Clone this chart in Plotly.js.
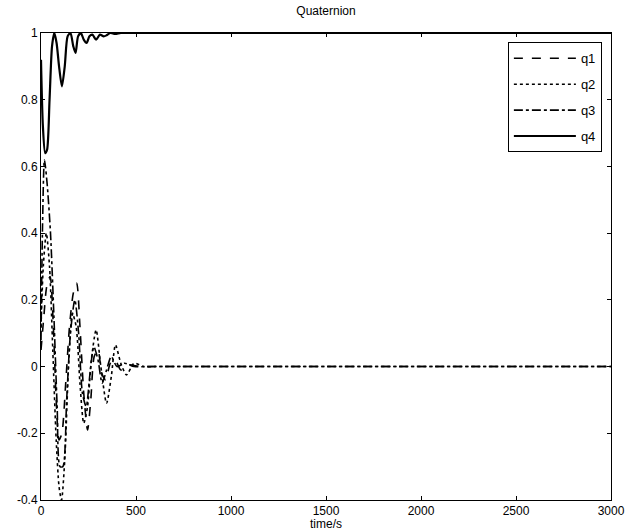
<!DOCTYPE html>
<html>
<head>
<meta charset="utf-8">
<script src="https://cdn.plot.ly/plotly-3.0.1.min.js"></script>
<style>html,body{margin:0;padding:0;background:#fff;}#chart{width:631px;height:531px;}</style>
</head>
<body>
<div id="chart"></div>
<script>
// q1 (dashed)
var t1 = [0,15,30,48,65,80,95,110,130,150,170,188,205,225,245,262,280,300,320,340,365,390,420,460,520,600,700,3000];
var q1 = [0.05,0.15,0.24,0.27,0.12,-0.1,-0.22,-0.2,-0.05,0.12,0.22,0.25,0.12,-0.08,-0.19,-0.1,0.03,0.05,-0.02,-0.04,0.01,0.02,-0.01,0.005,0,0,0,0];
// q2 (dotted)
var t2 = [0,12,28,45,62,80,95,108,125,145,165,185,205,225,245,265,290,315,345,370,392,420,450,490,540,600,700,3000];
var q2 = [0.12,0.3,0.4,0.3,0.05,-0.22,-0.36,-0.4,-0.28,0.0,0.16,0.12,-0.05,-0.17,-0.12,0.02,0.11,0.0,-0.11,-0.03,0.065,0.01,-0.025,0.01,0,0,0,0];
// q3 (dash-dot)
var t3 = [0,8,18,32,50,68,85,100,115,135,155,178,198,218,238,258,278,300,322,345,370,400,440,490,560,650,3000];
var q3 = [0.08,0.42,0.62,0.55,0.4,0.15,-0.12,-0.3,-0.3,-0.1,0.1,0.2,0.1,-0.08,-0.12,-0.02,0.06,0.02,-0.05,-0.01,0.03,0.0,0.01,0,0,0,0];
// q4 (solid)
var t4 = [0,10,22,32,45,58,70,82,95,110,125,140,155,170,182,195,210,225,240,255,270,290,310,330,345,365,390,420,460,520,3000];
var q4 = [0.92,0.72,0.64,0.65,0.8,0.96,1.0,0.97,0.9,0.84,0.9,0.99,1.0,0.96,0.94,0.99,1.0,0.98,0.97,0.99,0.995,0.98,0.995,0.99,0.993,1.0,0.997,1.0,1.0,1.0,1.0];

var names = ['q1','q2','q3','q4'];
var xTicks = [0,500,1000,1500,2000,2500,3000];
var xTickText = ['0','500','1000','1500','2000','2500','3000'];
var yTicks = [-0.4,-0.2,0,0.2,0.4,0.6,0.8,1];
var yTickText = ['-0.4','-0.2','0','0.2','0.4','0.6','0.8','1'];

var styles = [
  {dash:'dash', width:1.6},
  {dash:'dot', width:1.6},
  {dash:'dashdot', width:1.6},
  {dash:'solid', width:2.2}
];
var xs = [t1,t2,t3,t4], ys = [q1,q2,q3,q4];
var traces = names.map(function(n,i){
  return {x: xs[i], y: ys[i], name: n, type:'scatter', mode:'lines',
    legendgroup: n,
    line:{color:'#000', width:styles[i].width, dash:styles[i].dash, shape:'spline', smoothing:0.7}};
});

var fam = '"Liberation Sans", Arial, sans-serif';
var layout = {
  width:631, height:531,
  margin:{l:41, r:20, t:33, b:31},
  paper_bgcolor:'#fff', plot_bgcolor:'#fff',
  font:{family:fam, size:12, color:'#000'},
  title:{text:'Quaternion', font:{family:fam, size:12, color:'#000'}, x:0.5, xref:'paper', y:1-11/531, yref:'container', yanchor:'middle'},
  showlegend:true,
  legend:{x:0.984, y:0.98, xanchor:'right', yanchor:'top', bgcolor:'#fff', bordercolor:'#000', borderwidth:1,
    font:{family:fam, size:13, color:'#000'}, itemwidth:62, tracegroupgap:6},
  xaxis:{range:[0,3000], tickvals:xTicks, ticktext:xTickText, ticks:'inside', ticklen:4, tickcolor:'#000',
    showline:true, linecolor:'#000', linewidth:1, mirror:'ticks', showgrid:false, zeroline:false,
    title:{text:'time/s', font:{family:fam, size:12, color:'#000'}, standoff:2}},
  yaxis:{range:[-0.4,1], tickvals:yTicks, ticktext:yTickText, ticks:'inside', ticklen:4, tickcolor:'#000',
    showline:true, linecolor:'#000', linewidth:1, mirror:'ticks', showgrid:false, zeroline:false}
};
Plotly.newPlot('chart', traces, layout, {staticPlot:true, displayModeBar:false});
</script>
</body>
</html>
